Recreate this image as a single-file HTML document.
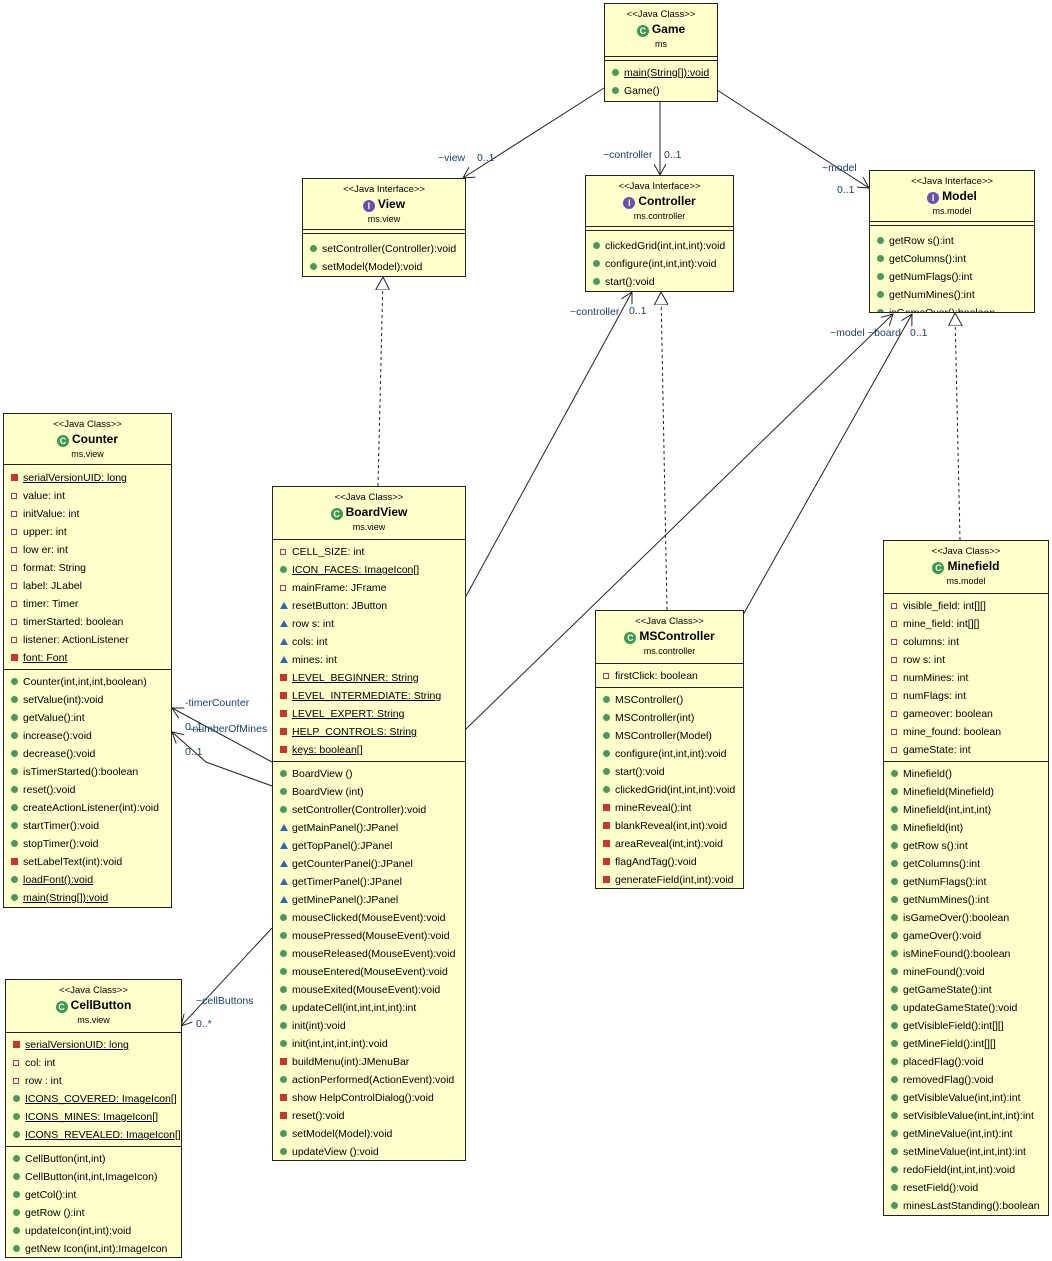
<!DOCTYPE html><html><head><meta charset="utf-8"><style>
body{margin:0;width:1052px;height:1261px;background:#fff;position:relative;font-family:"Liberation Sans",sans-serif;overflow:hidden}
.b{position:absolute;border:1px solid #222;background:#ffffcc;font-size:10.5px;color:#000;box-sizing:border-box;overflow:hidden}
.hd{text-align:center;height:50px;box-sizing:border-box;padding-top:4px}
.st{font-size:9.5px;line-height:13px}
.nm{font-weight:bold;font-size:12px;line-height:17px}
.nm:before{content:"C";display:inline-block;width:12px;height:12px;border-radius:6px;background:#3b9a4b;color:#fff;font-size:9px;line-height:12px;text-align:center;margin-right:3px;vertical-align:-1px}
.i:before{content:"I";background:#6a4fb0}
.pk{font-size:9px;line-height:13px}
.s{border-top:1px solid #222;padding:3px 0 2px}
.e{border-top:1px solid #222;height:3px}
.r{height:18px;line-height:18px;padding-left:7px;white-space:nowrap}
.r:before{content:"";display:inline-block;width:7px;height:7px;border-radius:4px;background:#4a9a5a;margin-right:5px;vertical-align:0}
.p:before{border-radius:0;background:#fff;border:1px solid #c33;width:4px;height:4px;margin-right:6px}
.t:before{border-radius:0;background:none;width:0;height:0;border-left:4px solid transparent;border-right:4px solid transparent;border-bottom:7px solid #2a6ab0;margin-right:4px}
.q:before{border-radius:0;background:#c33;}
.u{text-decoration:underline}
.l{position:absolute;font-size:10.5px;color:#1a3e7a;white-space:nowrap}
</style></head><body>
<svg width="1052" height="1261" style="position:absolute;left:0;top:0">
<defs><marker id="a" markerWidth="12" markerHeight="12" refX="11" refY="6" orient="auto" markerUnits="userSpaceOnUse"><path d="M0,0 L11,6 L0,12" fill="none" stroke="#222"/></marker>
<marker id="t" markerWidth="14" markerHeight="14" refX="13" refY="7" orient="auto" markerUnits="userSpaceOnUse"><path d="M0,0 L13,7 L0,14 Z" fill="#fff" stroke="#222"/></marker></defs>
<g stroke="#222" fill="none">
<line x1="604" y1="88" x2="463" y2="178" marker-end="url(#a)"/>
<line x1="660" y1="101" x2="660" y2="175" marker-end="url(#a)"/>
<line x1="717" y1="90" x2="869" y2="188" marker-end="url(#a)"/>
<line x1="378" y1="486" x2="383" y2="277" stroke-dasharray="3,3" marker-end="url(#t)"/>
<line x1="667" y1="610" x2="661" y2="292" stroke-dasharray="3,3" marker-end="url(#t)"/>
<line x1="960" y1="540" x2="955" y2="313" stroke-dasharray="3,3" marker-end="url(#t)"/>
<line x1="465" y1="598" x2="632" y2="292" marker-end="url(#a)"/>
<line x1="465" y1="730" x2="893" y2="314" marker-end="url(#a)"/>
<line x1="743" y1="615" x2="912" y2="314" marker-end="url(#a)"/>
<line x1="272" y1="762" x2="172" y2="708" marker-end="url(#a)"/>
<polyline points="272,786 206,762 172,732" marker-end="url(#a)"/>
<line x1="272" y1="928" x2="181" y2="1026" marker-end="url(#a)"/>
</g></svg>
<div class="l" style="left:438px;top:152px">~view</div><div class="l" style="left:477px;top:152px">0..1</div>
<div class="l" style="left:603px;top:149px">~controller</div><div class="l" style="left:664px;top:149px">0..1</div>
<div class="l" style="left:822px;top:162px">~model</div><div class="l" style="left:837px;top:184px">0..1</div>
<div class="l" style="left:570px;top:306px">~controller</div><div class="l" style="left:629px;top:305px">0..1</div>
<div class="l" style="left:830px;top:327px">~model</div><div class="l" style="left:868px;top:327px">~board</div><div class="l" style="left:910px;top:327px">0..1</div>
<div class="l" style="left:185px;top:697px">-timerCounter</div><div class="l" style="left:185px;top:721px">0..1</div>
<div class="l" style="left:189px;top:723px">-numberOfMines</div><div class="l" style="left:185px;top:746px">0..1</div>
<div class="l" style="left:196px;top:995px">~cellButtons</div><div class="l" style="left:196px;top:1018px">0..*</div>

<div class="b" style="left:604px;top:3px;width:114px;height:99px"><div class="hd" style="height:52px"><div class="st">&lt;&lt;Java Class&gt;&gt;</div><div class="nm">Game</div><div class="pk">ms</div></div><div class="e"></div><div class="s"><div class="r u">main(String[]):void</div><div class="r">Game()</div></div></div>

<div class="b" style="left:302px;top:178px;width:164px;height:99px"><div class="hd"><div class="st">&lt;&lt;Java Interface&gt;&gt;</div><div class="nm i">View</div><div class="pk">ms.view</div></div><div class="e"></div><div class="s" style="padding-top:6px"><div class="r">setController(Controller):void</div><div class="r">setModel(Model):void</div></div></div>

<div class="b" style="left:585px;top:175px;width:149px;height:117px"><div class="hd"><div class="st">&lt;&lt;Java Interface&gt;&gt;</div><div class="nm i">Controller</div><div class="pk">ms.controller</div></div><div class="e"></div><div class="s" style="padding-top:6px"><div class="r">clickedGrid(int,int,int):void</div><div class="r">configure(int,int,int):void</div><div class="r">start():void</div></div></div>

<div class="b" style="left:869px;top:170px;width:166px;height:143px"><div class="hd"><div class="st">&lt;&lt;Java Interface&gt;&gt;</div><div class="nm i">Model</div><div class="pk">ms.model</div></div><div class="e"></div><div class="s" style="padding-top:6px"><div class="r">getRow s():int</div><div class="r">getColumns():int</div><div class="r">getNumFlags():int</div><div class="r">getNumMines():int</div><div class="r">isGameOver():boolean</div></div></div>

<div class="b" style="left:3px;top:413px;width:169px;height:495px"><div class="hd"><div class="st">&lt;&lt;Java Class&gt;&gt;</div><div class="nm">Counter</div><div class="pk">ms.view</div></div><div class="s" style="padding-top:4px"><div class="r q u">serialVersionUID: long</div><div class="r p">value: int</div><div class="r p">initValue: int</div><div class="r p">upper: int</div><div class="r p">low er: int</div><div class="r p">format: String</div><div class="r p">label: JLabel</div><div class="r p">timer: Timer</div><div class="r p">timerStarted: boolean</div><div class="r p">listener: ActionListener</div><div class="r q u">font: Font</div></div><div class="s"><div class="r">Counter(int,int,int,boolean)</div><div class="r">setValue(int):void</div><div class="r">getValue():int</div><div class="r">increase():void</div><div class="r">decrease():void</div><div class="r">isTimerStarted():boolean</div><div class="r">reset():void</div><div class="r">createActionListener(int):void</div><div class="r">startTimer():void</div><div class="r">stopTimer():void</div><div class="r q">setLabelText(int):void</div><div class="r u">loadFont():void</div><div class="r u">main(String[]):void</div></div></div>

<div class="b" style="left:272px;top:486px;width:194px;height:675px"><div class="hd" style="height:52px"><div class="st">&lt;&lt;Java Class&gt;&gt;</div><div class="nm">BoardView</div><div class="pk">ms.view</div></div><div class="s"><div class="r p">CELL_SIZE: int</div><div class="r u">ICON_FACES: ImageIcon[]</div><div class="r p">mainFrame: JFrame</div><div class="r t">resetButton: JButton</div><div class="r t">row s: int</div><div class="r t">cols: int</div><div class="r t">mines: int</div><div class="r q u">LEVEL_BEGINNER: String</div><div class="r q u">LEVEL_INTERMEDIATE: String</div><div class="r q u">LEVEL_EXPERT: String</div><div class="r q u">HELP_CONTROLS: String</div><div class="r q u">keys: boolean[]</div></div><div class="s"><div class="r">BoardView ()</div><div class="r">BoardView (int)</div><div class="r">setController(Controller):void</div><div class="r t">getMainPanel():JPanel</div><div class="r t">getTopPanel():JPanel</div><div class="r t">getCounterPanel():JPanel</div><div class="r t">getTimerPanel():JPanel</div><div class="r t">getMinePanel():JPanel</div><div class="r">mouseClicked(MouseEvent):void</div><div class="r">mousePressed(MouseEvent):void</div><div class="r">mouseReleased(MouseEvent):void</div><div class="r">mouseEntered(MouseEvent):void</div><div class="r">mouseExited(MouseEvent):void</div><div class="r">updateCell(int,int,int,int):int</div><div class="r">init(int):void</div><div class="r">init(int,int,int,int):void</div><div class="r q">buildMenu(int):JMenuBar</div><div class="r">actionPerformed(ActionEvent):void</div><div class="r q">show HelpControlDialog():void</div><div class="r q">reset():void</div><div class="r">setModel(Model):void</div><div class="r">updateView ():void</div></div></div>

<div class="b" style="left:5px;top:979px;width:177px;height:279px"><div class="hd" style="height:52px"><div class="st">&lt;&lt;Java Class&gt;&gt;</div><div class="nm">CellButton</div><div class="pk">ms.view</div></div><div class="s"><div class="r q u">serialVersionUID: long</div><div class="r p">col: int</div><div class="r p">row : int</div><div class="r u">ICONS_COVERED: ImageIcon[]</div><div class="r u">ICONS_MINES: ImageIcon[]</div><div class="r u">ICONS_REVEALED: ImageIcon[]</div></div><div class="s"><div class="r">CellButton(int,int)</div><div class="r">CellButton(int,int,ImageIcon)</div><div class="r">getCol():int</div><div class="r">getRow ():int</div><div class="r">updateIcon(int,int):void</div><div class="r">getNew Icon(int,int):ImageIcon</div></div></div>

<div class="b" style="left:595px;top:610px;width:149px;height:279px"><div class="hd" style="height:52px"><div class="st">&lt;&lt;Java Class&gt;&gt;</div><div class="nm">MSController</div><div class="pk">ms.controller</div></div><div class="s"><div class="r p">firstClick: boolean</div></div><div class="s"><div class="r">MSController()</div><div class="r">MSController(int)</div><div class="r">MSController(Model)</div><div class="r">configure(int,int,int):void</div><div class="r">start():void</div><div class="r">clickedGrid(int,int,int):void</div><div class="r q">mineReveal():int</div><div class="r q">blankReveal(int,int):void</div><div class="r q">areaReveal(int,int):void</div><div class="r q">flagAndTag():void</div><div class="r q">generateField(int,int):void</div></div></div>

<div class="b" style="left:883px;top:540px;width:166px;height:676px"><div class="hd" style="height:52px"><div class="st">&lt;&lt;Java Class&gt;&gt;</div><div class="nm">Minefield</div><div class="pk">ms.model</div></div><div class="s"><div class="r p">visible_field: int[][]</div><div class="r p">mine_field: int[][]</div><div class="r p">columns: int</div><div class="r p">row s: int</div><div class="r p">numMines: int</div><div class="r p">numFlags: int</div><div class="r p">gameover: boolean</div><div class="r p">mine_found: boolean</div><div class="r p">gameState: int</div></div><div class="s"><div class="r">Minefield()</div><div class="r">Minefield(Minefield)</div><div class="r">Minefield(int,int,int)</div><div class="r">Minefield(int)</div><div class="r">getRow s():int</div><div class="r">getColumns():int</div><div class="r">getNumFlags():int</div><div class="r">getNumMines():int</div><div class="r">isGameOver():boolean</div><div class="r">gameOver():void</div><div class="r">isMineFound():boolean</div><div class="r">mineFound():void</div><div class="r">getGameState():int</div><div class="r">updateGameState():void</div><div class="r">getVisibleField():int[][]</div><div class="r">getMineField():int[][]</div><div class="r">placedFlag():void</div><div class="r">removedFlag():void</div><div class="r">getVisibleValue(int,int):int</div><div class="r">setVisibleValue(int,int,int):int</div><div class="r">getMineValue(int,int):int</div><div class="r">setMineValue(int,int,int):int</div><div class="r">redoField(int,int,int):void</div><div class="r">resetField():void</div><div class="r">minesLastStanding():boolean</div></div></div>
</body></html>
